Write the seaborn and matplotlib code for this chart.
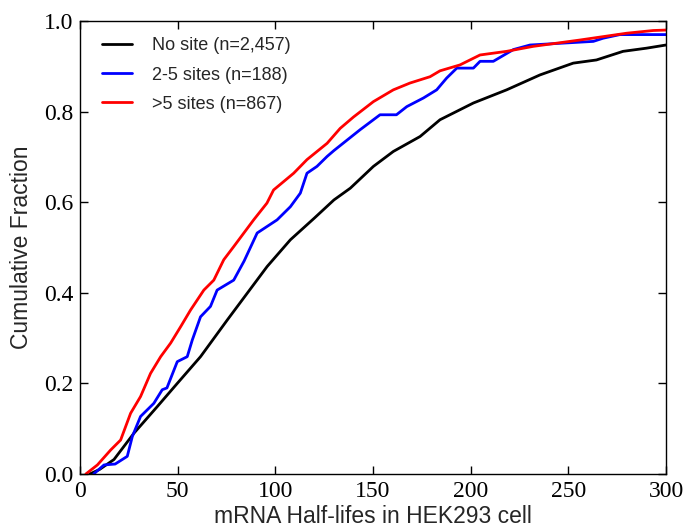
import matplotlib
matplotlib.use("Agg")
import matplotlib.pyplot as plt
import seaborn as sns
import pandas as pd

# ---- data (cumulative fraction vs half-life) ----
labels = ["No site (n=2,457)", "2-5 sites (n=188)", ">5 sites (n=867)"]
colors = ["black", "blue", "red"]

black_x = [5, 10, 17.4, 27.6, 39.6, 49.8, 61.7, 75.4, 85.6, 95.8, 107.7, 120, 130,
           138.4, 150.2, 160.4, 174.1, 184.3, 201.4, 218.4, 235.5, 252.5, 264.4,
           278, 290, 300]
black_y = [0, 0.01, 0.032, 0.09, 0.149, 0.2, 0.259, 0.34, 0.399, 0.458, 0.517, 0.565,
           0.605, 0.631, 0.679, 0.712, 0.745, 0.782, 0.819, 0.848, 0.881, 0.907,
           0.914, 0.933, 0.940, 0.947]

blue_x = [7, 12.3, 18, 24.2, 26.8, 31, 37.8, 42.1, 44.5, 49.8, 54.9, 57.5, 61.7,
          66.8, 70.2, 78.7, 84, 90.7, 100.9, 107.7, 112.8, 116.2, 121.3, 126.5, 130,
          143.4, 153.6, 162, 167.3, 175.8, 182.6, 187.7, 192.9, 201.4, 204.8, 211.6,
          221.9, 230.4, 262.8, 267.8, 276.4, 300]
blue_y = [0, 0.02, 0.022, 0.039, 0.083, 0.127, 0.156, 0.186, 0.19, 0.248, 0.259,
          0.296, 0.347, 0.37, 0.406, 0.428, 0.47, 0.532, 0.561, 0.59, 0.62, 0.664,
          0.679, 0.701, 0.714, 0.76, 0.793, 0.793, 0.811, 0.83, 0.848, 0.874, 0.896,
          0.896, 0.911, 0.911, 0.937, 0.947, 0.955, 0.962, 0.97, 0.97]

red_x = [3, 8.9, 15.7, 20.8, 25.9, 31, 36.1, 41.3, 46.4, 51.5, 56.6, 63.4, 68.5,
         73.6, 78.7, 88.9, 95.7, 99.1, 109.4, 116.2, 126.5, 133.2, 140, 150.2, 160.4,
         168.9, 179.2, 184.3, 194.5, 204.8, 218.4, 232, 255.9, 279.8, 293.4, 300]
red_y = [0, 0.02, 0.053, 0.075, 0.134, 0.171, 0.222, 0.259, 0.289, 0.325, 0.362,
         0.406, 0.428, 0.473, 0.502, 0.561, 0.598, 0.627, 0.664, 0.694, 0.73, 0.763,
         0.788, 0.822, 0.848, 0.863, 0.877, 0.89, 0.903, 0.925, 0.933, 0.944, 0.958,
         0.973, 0.979, 0.98]

x_ticks = [0, 50, 100, 150, 200, 250, 300]
y_ticks = [0.0, 0.2, 0.4, 0.6, 0.8, 1.0]

frames = []
for lab, xs, ys in zip(labels, [black_x, blue_x, red_x], [black_y, blue_y, red_y]):
    frames.append(pd.DataFrame({"x": xs, "y": ys, "group": lab}))
df = pd.concat(frames, ignore_index=True)

sns.set_style("white")
plt.rcParams["font.family"] = ["Liberation Sans", "DejaVu Sans"]

fig = plt.figure(figsize=(6.89, 5.29), dpi=100)
ax = fig.add_axes([80 / 689, 1 - 474 / 529, (666 - 80) / 689, (474 - 21) / 529])

sns.lineplot(data=df, x="x", y="y", hue="group", hue_order=labels,
             palette=dict(zip(labels, colors)), estimator=None, sort=False,
             linewidth=2, ax=ax)

ax.set_xlim(0, 300)
ax.set_ylim(0, 1.0)
ax.set_xticks(x_ticks)
ax.set_yticks(y_ticks)
ax.set_xticklabels([str(t) for t in x_ticks], family="Liberation Serif", fontsize=17)
ax.set_yticklabels([f"{t:.1f}" for t in y_ticks], family="Liberation Serif", fontsize=17)
ax.tick_params(direction="in", length=6, width=1, top=True, right=True,
               bottom=True, left=True, pad=5, colors="black")
for s in ax.spines.values():
    s.set_visible(True)
    s.set_color("black")
    s.set_linewidth(1)

ax.set_xlabel("mRNA Half-lifes in HEK293 cell", fontsize=16.5, labelpad=2)
ax.set_ylabel("Cumulative Fraction", fontsize=16.5, labelpad=8)

leg = ax.legend(frameon=False, loc="upper left", fontsize=13, handlelength=1.65,
                borderaxespad=0.5, labelspacing=0.68, handletextpad=1.1,
                bbox_to_anchor=(0.01, 1.0))
for line in leg.get_lines():
    line.set_linewidth(2)

fig.savefig("out.png", dpi=100)
